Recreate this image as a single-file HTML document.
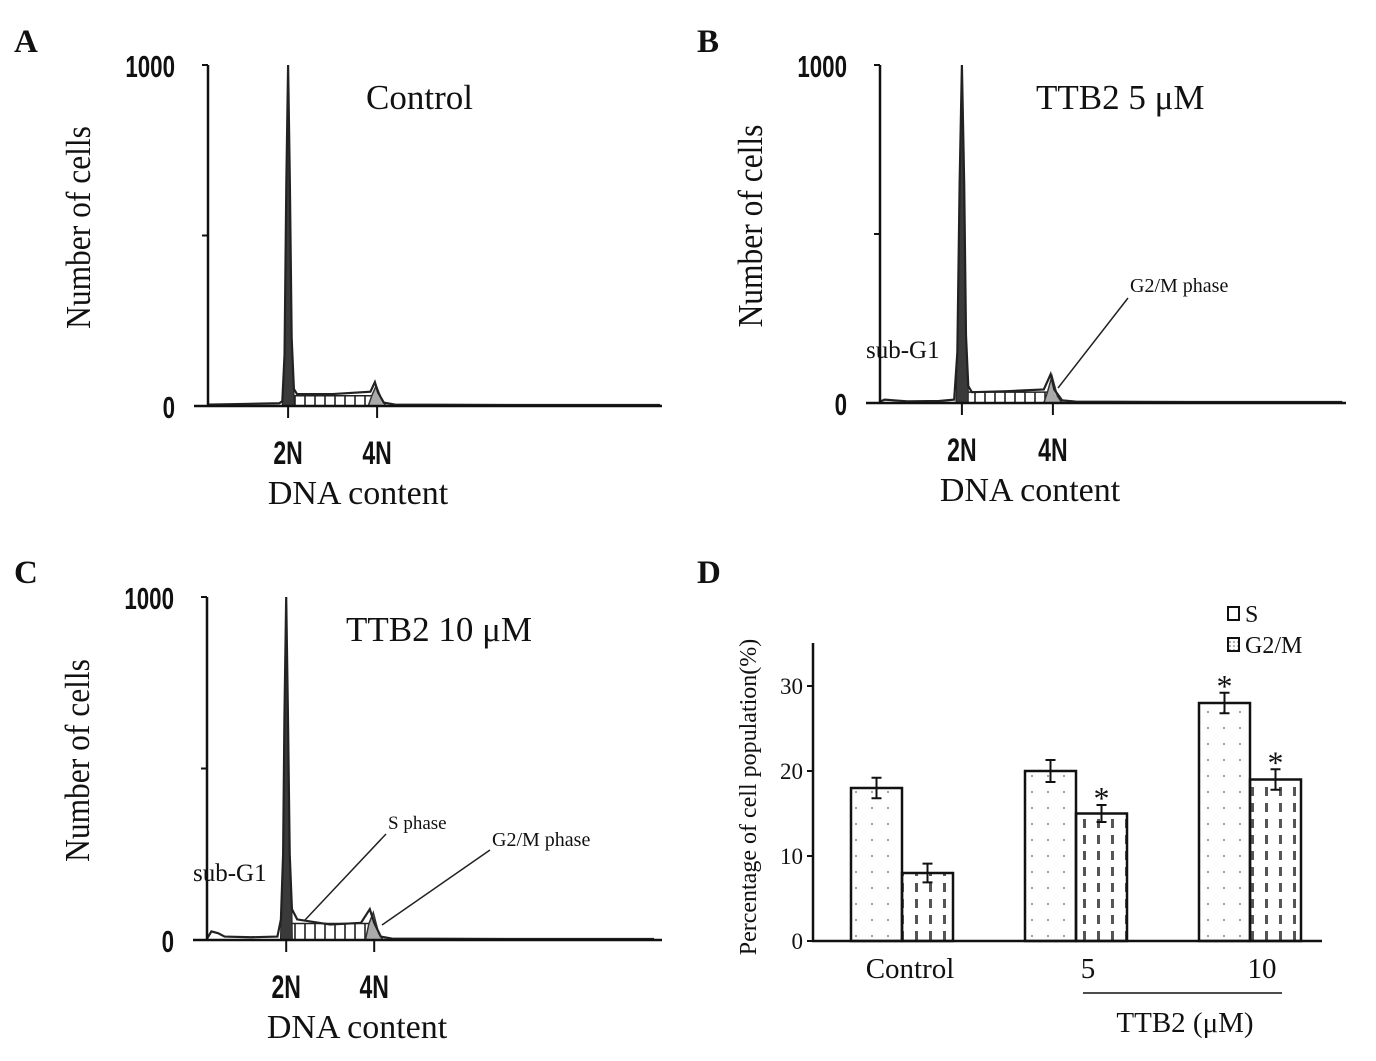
<!DOCTYPE html>
<html><head><meta charset="utf-8"><style>
html,body{margin:0;padding:0;background:#fff;}
svg{display:block;}
.ser{font-family:"Liberation Serif",serif;fill:#111;}
.san{font-family:"Liberation Sans",sans-serif;font-weight:bold;fill:#111;}
</style></head><body>
<svg id="fig" width="1376" height="1061" viewBox="0 0 1376 1061" xmlns="http://www.w3.org/2000/svg">
<defs>
<pattern id="hatch" width="10" height="40" patternUnits="userSpaceOnUse"><line x1="5" y1="0" x2="5" y2="40" stroke="#222" stroke-width="1.6"/></pattern>
<pattern id="dots" width="16" height="16" patternUnits="userSpaceOnUse"><circle cx="8" cy="8" r="1.1" fill="#999"/></pattern>
<pattern id="dash" width="14" height="16" patternUnits="userSpaceOnUse"><rect x="5" y="3" width="3" height="9" fill="#555"/></pattern>
<pattern id="ldots" width="4" height="4" patternUnits="userSpaceOnUse"><circle cx="2" cy="2" r="0.8" fill="#555"/></pattern>
</defs>
<g id="root"></g>
</svg>
<script>
// ---- Histogram data (channel, count); 2N=200, 4N=400 ----
const histA = [[20,4],[100,6],[180,8],[187,14],[192,150],[196,650],[200,1000],[204,650],[208,200],[213,50],[220,35],[300,35],[385,42],[395,70],[402,40],[415,10],[440,4],[700,3],[1036,3]];
const histB = [[20,4],[30,10],[50,8],[80,5],[150,6],[183,10],[190,150],[195,650],[200,1000],[205,650],[209,200],[214,50],[222,32],[300,35],[380,40],[395,85],[403,40],[420,8],[450,4],[700,3],[1036,3]];
const histC = [[20,4],[30,25],[45,20],[60,10],[120,8],[180,10],[188,60],[193,250],[196,650],[200,1000],[204,650],[208,250],[213,90],[225,60],[300,45],[370,50],[390,90],[400,50],[415,10],[440,4],[700,3],[1036,3]];
const sLevelA = 30, sLevelB = 32, sLevelC = 48;
const g2PeakA = 60, g2PeakB = 80, g2PeakC = 80;
const yTicksHist = [0, 500, 1000];
const yTickLabelsHist = ["0", "", "1000"];

// ---- Bar chart data ----
const barCategories = ["Control", "5", "10"];
const sValues = [18, 20, 28];
const sErrors = [1.2, 1.3, 1.2];
const g2Values = [8, 15, 19];
const g2Errors = [1.1, 1.0, 1.2];
const g2Sig = [false, true, true];
const sSig = [false, false, true];
const barTicks = [0, 10, 20, 30];

const NS = "http://www.w3.org/2000/svg";
const root = document.getElementById('root');
function mk(tag, attrs, parent, text){
  const e = document.createElementNS(NS, tag);
  for (const k in attrs) e.setAttribute(k, attrs[k]);
  if (text !== undefined) e.textContent = text;
  (parent || root).appendChild(e);
  return e;
}

function histPanel(cfg){
  const g = mk('g', {});
  
  
  const x = v => cfg.x0 + (v - 20) * cfg.kx;
  const y = v => cfg.y0 - v / 1000 * (cfg.y0 - cfg.yTop);
  const sx1 = x(205), sx2 = x(393);
  const sreg = mk('path', {d:`M${sx1},${cfg.y0} L${sx1},${y(cfg.sLevel)} L${sx2},${y(cfg.sLevel)} L${sx2+6},${cfg.y0} Z`, fill:'url(#hatch)', stroke:'#222', 'stroke-width':1.5}, g);
  
  
  const g2 = mk('path', {d:`M${x(380)},${cfg.y0} L${x(388)},${y(cfg.sLevel)} L${x(398)},${y(cfg.g2Peak)} L${x(410)},${y(20)} L${x(420)},${cfg.y0} Z`, fill:'#aaa', stroke:'#333', 'stroke-width':1.5}, g);
  
  
  const g1pts = cfg.data.filter(p => p[0] >= 187 && p[0] <= 214);
  let d = `M${x(187)},${cfg.y0} ` + g1pts.map(p => `L${x(p[0])},${y(p[1])}`).join(' ') + ` L${x(214)},${cfg.y0} Z`;
  const g1 = mk('path', {d, fill:'#3a3a3a', stroke:'#222', 'stroke-width':1}, g);
  
  
  const line = mk('path', {d: 'M' + cfg.data.map(p => `${x(p[0])},${y(p[1])}`).join(' L'), fill:'none', stroke:'#222', 'stroke-width':2.2}, g);
  
  
  const ax = mk('path', {d:`M${cfg.x0},${cfg.yTop} L${cfg.x0},${cfg.y0} M${cfg.x0-14},${cfg.y0} L${cfg.xEnd},${cfg.y0}`, stroke:'#111', 'stroke-width':2.5, fill:'none'}, g);
  
  
  yTicksHist.forEach((t, i) => {
    mk('line', {x1:cfg.x0-6, x2:cfg.x0, y1:y(t), y2:y(t), stroke:'#111', 'stroke-width':2}, g);
    if (yTickLabelsHist[i]) {
      const ax0 = cfg.x0-33;
      const tl = mk('text', {x:ax0, y:y(t)+12, 'text-anchor':'end', class:'san', 'font-size':31, transform:`translate(${ax0},0) scale(0.72,1) translate(${-ax0},0)`}, g, yTickLabelsHist[i]);
      
      
    }
  });
  [[200,'2N'],[400,'4N']].forEach(([v, lab]) => {
    mk('line', {x1:x(v), x2:x(v), y1:cfg.y0, y2:cfg.y0+12, stroke:'#111', 'stroke-width':2}, g);
    const t = mk('text', {x:x(v), y:cfg.y0+58, 'text-anchor':'middle', class:'san', 'font-size':32, transform:`translate(${x(v)},0) scale(0.72,1) translate(${-x(v)},0)`}, g, lab);
    
    
  });
  const xt = mk('text', {x:cfg.x0+150, y:cfg.y0+98, 'text-anchor':'middle', class:'ser', 'font-size':34}, g, 'DNA content');
  
  
  const yx = cfg.x0 - 118, yy = (cfg.yTop + cfg.y0)/2 - 8;
  const yt = mk('text', {x:yx, y:yy, 'text-anchor':'middle', class:'ser', 'font-size':35, transform:`rotate(-90 ${yx} ${yy}) translate(${yx},0) scale(0.9,1) translate(${-yx},0)`}, g, 'Number of cells');
  
  
  const tt = mk('text', {x:cfg.titleX, y:cfg.yTop+44, class:'ser', 'font-size':35}, g, cfg.title);
  
  
  const pl = mk('text', {x:cfg.letterX, y:cfg.letterY, class:'ser', 'font-weight':'bold', 'font-size':33}, g, cfg.letter);
  
  
  return {g, x, y};
}

histPanel({name:'panel-a', data:histA, sLevel:sLevelA, g2Peak:g2PeakA, x0:208, y0:406, yTop:65, xEnd:662, kx:0.445, title:'Control', titleX:366, letter:'A', letterX:14, letterY:52});
histPanel({name:'panel-b', data:histB, sLevel:sLevelB, g2Peak:g2PeakB, x0:880, y0:403, yTop:65, xEnd:1346, kx:0.455, title:'TTB2   5 μM', titleX:1036, letter:'B', letterX:697, letterY:52});
histPanel({name:'panel-c', data:histC, sLevel:sLevelC, g2Peak:g2PeakC, x0:207, y0:940, yTop:597, xEnd:662, kx:0.44, title:'TTB2 10 μM', titleX:346, letter:'C', letterX:14, letterY:583});

function ann(txt, tx, ty, fs, lx1, ly1, lx2, ly2, name){
  const t = mk('text', {x:tx, y:ty, class:'ser', 'font-size':fs});
  t.textContent = txt;
  
  
  if (lx1 !== null) mk('line', {x1:lx1, y1:ly1, x2:lx2, y2:ly2, stroke:'#222', 'stroke-width':1.5});
}
ann('G2/M phase', 1130, 292, 20, 1128, 298, 1058, 388, 'g2m-label');
ann('sub-G1', 866, 358, 25, null, 0, 0, 0, 'subg1-label');
ann('S phase', 388, 829, 19, 386, 834, 305, 920, 's-phase-label');
ann('G2/M phase', 492, 846, 20, 490, 850, 382, 925, 'g2m-label');
ann('sub-G1', 193, 881, 25, null, 0, 0, 0, 'subg1-label');

// ---- Bar chart ----
const B = {x0:813, y0:941, yTop:643, xEnd:1322};
const bx = i => [902, 1076, 1250][i];
const by = v => B.y0 - v * 8.5;
const bw = 51;
const gD = mk('g', {});


function bar(cx, v, err, fill, sig, name){
  const r = mk('rect', {x:cx, y:by(v), width:bw, height:B.y0-by(v), fill:fill, stroke:'#111', 'stroke-width':2.5}, gD);
  
  
  const m = cx + bw/2;
  mk('path', {d:`M${m},${by(v+err)} L${m},${by(v-err)} M${m-5},${by(v+err)} L${m+5},${by(v+err)} M${m-5},${by(v-err)} L${m+5},${by(v-err)}`, stroke:'#111', 'stroke-width':2, fill:'none'}, gD);
  if (sig) {
    const s = mk('text', {x:m, y:by(v+err)+4, 'text-anchor':'middle', class:'ser', 'font-size':32}, gD, '*');
    
    
  }
}
barCategories.forEach((c, i) => {
  bar(bx(i)-bw, sValues[i], sErrors[i], 'url(#dots)', sSig[i], 'bar-s-' + c.toLowerCase());
  bar(bx(i), g2Values[i], g2Errors[i], 'url(#dash)', g2Sig[i], 'bar-g2m-' + c.toLowerCase());
  const t = mk('text', {x:[910,1088,1262][i], y:978, 'text-anchor':'middle', class:'ser', 'font-size':29}, gD, c);
  
  
});
mk('path', {d:`M${B.x0},${B.yTop} L${B.x0},${B.y0} L${B.xEnd},${B.y0}`, stroke:'#111', 'stroke-width':2.5, fill:'none'}, gD);
barTicks.forEach(t => {
  mk('line', {x1:B.x0-6, x2:B.x0, y1:by(t), y2:by(t), stroke:'#111', 'stroke-width':2}, gD);
  const tl = mk('text', {x:B.x0-10, y:by(t)+8, 'text-anchor':'end', class:'ser', 'font-size':23}, gD, String(t));
  
  
});
const dyt = mk('text', {x:756, y:797, 'text-anchor':'middle', class:'ser', 'font-size':24, transform:'rotate(-90 756 797)'}, gD, 'Percentage of cell population(%)');


mk('line', {x1:1083, x2:1282, y1:993, y2:993, stroke:'#111', 'stroke-width':1.5}, gD);
const dxt = mk('text', {x:1185, y:1032, 'text-anchor':'middle', class:'ser', 'font-size':29}, gD, 'TTB2  (μM)');


const lg = mk('g', {}, gD);


mk('rect', {x:1228, y:607, width:11, height:13, fill:'#fff', stroke:'#111', 'stroke-width':2}, lg);
mk('text', {x:1245, y:622, class:'ser', 'font-size':24}, lg, 'S');
mk('rect', {x:1228, y:638, width:11, height:13, fill:'url(#ldots)', stroke:'#111', 'stroke-width':2}, lg);
mk('text', {x:1245, y:653, class:'ser', 'font-size':24}, lg, 'G2/M');
const dl = mk('text', {x:697, y:583, class:'ser', 'font-weight':'bold', 'font-size':33}, gD, 'D');


</script>
</body></html>
